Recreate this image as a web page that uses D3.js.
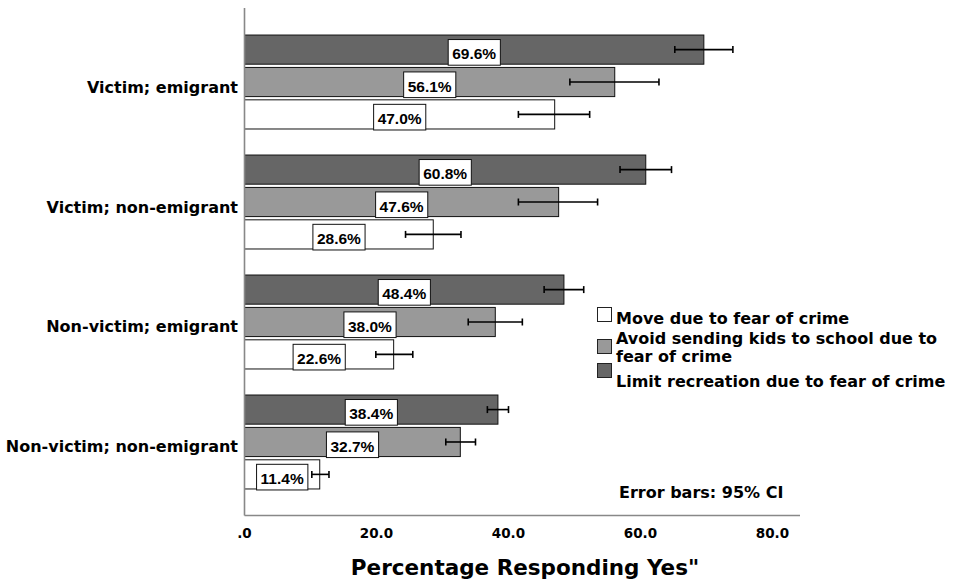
<!DOCTYPE html>
<html>
<head>
<meta charset="utf-8">
<script src="https://cdn.jsdelivr.net/npm/d3@7"></script>
<style>
  body { margin: 0; background: #fff; }
  text { font-family: "DejaVu Sans", sans-serif; font-weight: bold; fill: #000; }
  .val { font-family: "Liberation Sans", Arial, sans-serif; }
</style>
</head>
<body>
<svg id="chart"></svg>
<script>
let categories = ["Victim; emigrant", "Victim; non-emigrant", "Non-victim; emigrant", "Non-victim; non-emigrant"];
let seriesNames = ["Move due to fear of crime", "Avoid sending kids to school due to fear of crime", "Limit recreation due to fear of crime"];

let moveValues  = [47.0, 28.6, 22.6, 11.4];
let moveLow     = [41.5, 24.4, 19.9, 10.2];
let moveHigh    = [52.3, 32.8, 25.5, 12.8];

let avoidValues = [56.1, 47.6, 38.0, 32.7];
let avoidLow    = [49.3, 41.5, 33.9, 30.5];
let avoidHigh   = [62.8, 53.5, 42.1, 35.0];

let limitValues = [69.6, 60.8, 48.4, 38.4];
let limitLow    = [65.2, 56.9, 45.4, 36.8];
let limitHigh   = [74.0, 64.7, 51.4, 40.0];

let tickValues = [0, 20, 40, 60, 80];
let tickLabels = [".0", "20.0", "40.0", "60.0", "80.0"];

function createChart() {
    let w = 959, h = 586;
    let svg = d3.select("#chart").attr("width", w).attr("height", h);

    let series = [
        {name: seriesNames[0], values: moveValues, lo: moveLow, hi: moveHigh},
        {name: seriesNames[1], values: avoidValues, lo: avoidLow, hi: avoidHigh},
        {name: seriesNames[2], values: limitValues, lo: limitLow, hi: limitHigh}
    ];

    let color = d3.scaleOrdinal()
        .domain(seriesNames)
        .range(["#ffffff", "#999999", "#666666"]);

    let x = d3.scaleLinear().domain([0, 84.17]).range([244.5, 800]);

    let y0 = d3.scaleBand()
        .domain(categories)
        .range([9, 515])
        .padding(0.217);

    // bars inside a group: limit on top, move at the bottom
    let y1 = d3.scaleBand()
        .domain([seriesNames[2], seriesNames[1], seriesNames[0]])
        .range([0, y0.bandwidth()])
        .paddingInner(0.1);

    let rows = [];
    categories.forEach((c, i) => {
        series.forEach(s => {
            rows.push({cat: c, name: s.name, value: s.values[i], lo: s.lo[i], hi: s.hi[i]});
        });
    });

    let bar = svg.append("g")
        .selectAll("g")
        .data(rows)
        .enter().append("g")
        .attr("transform", d => `translate(0,${y0(d.cat) + y1(d.name)})`);

    bar.append("rect")
        .attr("x", x(0))
        .attr("y", 0)
        .attr("width", d => x(d.value) - x(0))
        .attr("height", y1.bandwidth())
        .attr("fill", d => color(d.name))
        .attr("stroke", "#111")
        .attr("stroke-width", 1);

    // value label boxes
    let label = bar.append("g")
        .attr("transform", d => `translate(${(x(0) + x(d.value)) / 2},0)`);

    label.append("text")
        .attr("class", "val")
        .attr("y", y1.bandwidth() - 5)
        .attr("text-anchor", "middle")
        .attr("font-size", 15.5)
        .text(d => d.value.toFixed(1) + "%")
        .each(function() {
            let b = this.getBBox();
            d3.select(this.parentNode).insert("rect", "text")
                .attr("x", b.x - 4)
                .attr("y", 4.5)
                .attr("width", b.width + 8)
                .attr("height", y1.bandwidth() - 3.5)
                .attr("fill", "#fff")
                .attr("stroke", "#111")
                .attr("stroke-width", 1);
        });

    // error bars
    let err = bar.append("g")
        .attr("stroke", "#000")
        .attr("stroke-width", 1.6);
    let cy = y1.bandwidth() / 2;
    err.append("line")
        .attr("x1", d => x(d.lo)).attr("x2", d => x(d.hi))
        .attr("y1", cy).attr("y2", cy);
    err.append("line")
        .attr("x1", d => x(d.lo)).attr("x2", d => x(d.lo))
        .attr("y1", cy - 3.5).attr("y2", cy + 3.5);
    err.append("line")
        .attr("x1", d => x(d.hi)).attr("x2", d => x(d.hi))
        .attr("y1", cy - 3.5).attr("y2", cy + 3.5);

    // axes lines
    svg.append("line")
        .attr("x1", x(0)).attr("x2", x(0))
        .attr("y1", 8).attr("y2", 515.5)
        .attr("stroke", "#888").attr("stroke-width", 1.6);
    svg.append("line")
        .attr("x1", x(0)).attr("x2", 800)
        .attr("y1", 515.5).attr("y2", 515.5)
        .attr("stroke", "#888").attr("stroke-width", 1.3);

    // category labels
    svg.append("g")
        .selectAll("text")
        .data(categories)
        .enter().append("text")
        .attr("x", 238)
        .attr("y", d => y0(d) + y0.bandwidth() / 2 + 10.5)
        .attr("text-anchor", "end")
        .attr("font-size", 16)
        .text(d => d);

    // x tick labels
    svg.append("g")
        .selectAll("text")
        .data(tickValues)
        .enter().append("text")
        .attr("x", d => x(d))
        .attr("y", 537.5)
        .attr("text-anchor", "middle")
        .attr("font-size", 13.5)
        .text((d, i) => tickLabels[i]);

    svg.append("text")
        .attr("x", 525)
        .attr("y", 575)
        .attr("text-anchor", "middle")
        .attr("font-size", 21.5)
        .text("Percentage Responding Yes\"");

    // legend
    let legend = svg.append("g").attr("transform", "translate(597,0)");
    let legendRows = [
        {name: seriesNames[0], sq: 307, lines: ["Move due to fear of crime"], base: 324},
        {name: seriesNames[1], sq: 339, lines: ["Avoid sending kids to school due to", "fear of crime"], base: 344},
        {name: seriesNames[2], sq: 363, lines: ["Limit recreation due to fear of crime"], base: 387}
    ];
    let li = legend.selectAll("g")
        .data(legendRows)
        .enter().append("g");
    li.append("rect")
        .attr("x", 0.5).attr("y", d => d.sq + 0.5)
        .attr("width", 14).attr("height", 14)
        .attr("fill", d => color(d.name))
        .attr("stroke", "#222").attr("stroke-width", 1);
    li.append("text")
        .attr("x", 19)
        .attr("y", d => d.base)
        .attr("font-size", 16)
        .selectAll("tspan")
        .data(d => d.lines)
        .enter().append("tspan")
        .attr("x", 19)
        .attr("dy", (d, i) => i ? 18 : 0)
        .text(d => d);

    svg.append("text")
        .attr("x", 619)
        .attr("y", 498)
        .attr("font-size", 16)
        .text("Error bars: 95% CI");
}

window.onload = function() {
    createChart();
};
</script>
</body>
</html>
